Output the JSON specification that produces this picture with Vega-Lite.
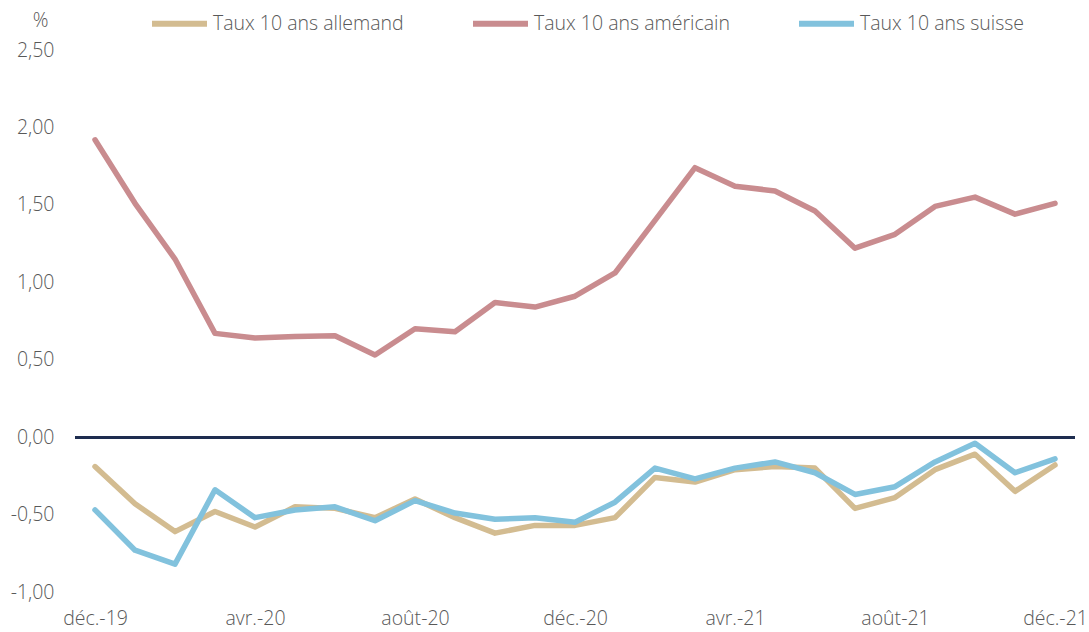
{
  "$schema": "https://vega.github.io/schema/vega-lite/v6.json",
  "width": 1000,
  "height": 542,
  "autosize": {"type": "none"},
  "padding": {"left": 75, "top": 50, "right": 14, "bottom": 40},
  "background": "white",
  "config": {
    "view": {"stroke": null},
    "font": "Open Sans",
    "axis": {"labelFont": "Open Sans", "labelColor": "#595959", "labelFontSize": 19.5, "labelFontWeight": 300, "titleFont": "Open Sans", "titleColor": "#595959", "titleFontSize": 19.5, "titleFontWeight": 300},
    "legend": {"labelFont": "Open Sans", "labelColor": "#595959", "labelFontSize": 19.5, "labelFontWeight": 300, "labelLimit": 400}
  },
  "data": {"values": [
    {"mois": "déc.-19", "serie": "Taux 10 ans allemand", "taux": -0.19},
    {"mois": "janv.-20", "serie": "Taux 10 ans allemand", "taux": -0.43},
    {"mois": "févr.-20", "serie": "Taux 10 ans allemand", "taux": -0.61},
    {"mois": "mars-20", "serie": "Taux 10 ans allemand", "taux": -0.48},
    {"mois": "avr.-20", "serie": "Taux 10 ans allemand", "taux": -0.58},
    {"mois": "mai-20", "serie": "Taux 10 ans allemand", "taux": -0.45},
    {"mois": "juin-20", "serie": "Taux 10 ans allemand", "taux": -0.46},
    {"mois": "juil.-20", "serie": "Taux 10 ans allemand", "taux": -0.52},
    {"mois": "août-20", "serie": "Taux 10 ans allemand", "taux": -0.40},
    {"mois": "sept.-20", "serie": "Taux 10 ans allemand", "taux": -0.52},
    {"mois": "oct.-20", "serie": "Taux 10 ans allemand", "taux": -0.62},
    {"mois": "nov.-20", "serie": "Taux 10 ans allemand", "taux": -0.57},
    {"mois": "déc.-20", "serie": "Taux 10 ans allemand", "taux": -0.57},
    {"mois": "janv.-21", "serie": "Taux 10 ans allemand", "taux": -0.52},
    {"mois": "févr.-21", "serie": "Taux 10 ans allemand", "taux": -0.26},
    {"mois": "mars-21", "serie": "Taux 10 ans allemand", "taux": -0.29},
    {"mois": "avr.-21", "serie": "Taux 10 ans allemand", "taux": -0.21},
    {"mois": "mai-21", "serie": "Taux 10 ans allemand", "taux": -0.19},
    {"mois": "juin-21", "serie": "Taux 10 ans allemand", "taux": -0.20},
    {"mois": "juil.-21", "serie": "Taux 10 ans allemand", "taux": -0.46},
    {"mois": "août-21", "serie": "Taux 10 ans allemand", "taux": -0.39},
    {"mois": "sept.-21", "serie": "Taux 10 ans allemand", "taux": -0.21},
    {"mois": "oct.-21", "serie": "Taux 10 ans allemand", "taux": -0.11},
    {"mois": "nov.-21", "serie": "Taux 10 ans allemand", "taux": -0.35},
    {"mois": "déc.-21", "serie": "Taux 10 ans allemand", "taux": -0.18},
    {"mois": "déc.-19", "serie": "Taux 10 ans américain", "taux": 1.92},
    {"mois": "janv.-20", "serie": "Taux 10 ans américain", "taux": 1.51},
    {"mois": "févr.-20", "serie": "Taux 10 ans américain", "taux": 1.15},
    {"mois": "mars-20", "serie": "Taux 10 ans américain", "taux": 0.67},
    {"mois": "avr.-20", "serie": "Taux 10 ans américain", "taux": 0.64},
    {"mois": "mai-20", "serie": "Taux 10 ans américain", "taux": 0.65},
    {"mois": "juin-20", "serie": "Taux 10 ans américain", "taux": 0.655},
    {"mois": "juil.-20", "serie": "Taux 10 ans américain", "taux": 0.53},
    {"mois": "août-20", "serie": "Taux 10 ans américain", "taux": 0.70},
    {"mois": "sept.-20", "serie": "Taux 10 ans américain", "taux": 0.68},
    {"mois": "oct.-20", "serie": "Taux 10 ans américain", "taux": 0.87},
    {"mois": "nov.-20", "serie": "Taux 10 ans américain", "taux": 0.84},
    {"mois": "déc.-20", "serie": "Taux 10 ans américain", "taux": 0.91},
    {"mois": "janv.-21", "serie": "Taux 10 ans américain", "taux": 1.06},
    {"mois": "févr.-21", "serie": "Taux 10 ans américain", "taux": 1.40},
    {"mois": "mars-21", "serie": "Taux 10 ans américain", "taux": 1.74},
    {"mois": "avr.-21", "serie": "Taux 10 ans américain", "taux": 1.62},
    {"mois": "mai-21", "serie": "Taux 10 ans américain", "taux": 1.59},
    {"mois": "juin-21", "serie": "Taux 10 ans américain", "taux": 1.46},
    {"mois": "juil.-21", "serie": "Taux 10 ans américain", "taux": 1.22},
    {"mois": "août-21", "serie": "Taux 10 ans américain", "taux": 1.31},
    {"mois": "sept.-21", "serie": "Taux 10 ans américain", "taux": 1.49},
    {"mois": "oct.-21", "serie": "Taux 10 ans américain", "taux": 1.55},
    {"mois": "nov.-21", "serie": "Taux 10 ans américain", "taux": 1.44},
    {"mois": "déc.-21", "serie": "Taux 10 ans américain", "taux": 1.51},
    {"mois": "déc.-19", "serie": "Taux 10 ans suisse", "taux": -0.47},
    {"mois": "janv.-20", "serie": "Taux 10 ans suisse", "taux": -0.73},
    {"mois": "févr.-20", "serie": "Taux 10 ans suisse", "taux": -0.82},
    {"mois": "mars-20", "serie": "Taux 10 ans suisse", "taux": -0.34},
    {"mois": "avr.-20", "serie": "Taux 10 ans suisse", "taux": -0.52},
    {"mois": "mai-20", "serie": "Taux 10 ans suisse", "taux": -0.47},
    {"mois": "juin-20", "serie": "Taux 10 ans suisse", "taux": -0.45},
    {"mois": "juil.-20", "serie": "Taux 10 ans suisse", "taux": -0.54},
    {"mois": "août-20", "serie": "Taux 10 ans suisse", "taux": -0.41},
    {"mois": "sept.-20", "serie": "Taux 10 ans suisse", "taux": -0.49},
    {"mois": "oct.-20", "serie": "Taux 10 ans suisse", "taux": -0.53},
    {"mois": "nov.-20", "serie": "Taux 10 ans suisse", "taux": -0.52},
    {"mois": "déc.-20", "serie": "Taux 10 ans suisse", "taux": -0.55},
    {"mois": "janv.-21", "serie": "Taux 10 ans suisse", "taux": -0.42},
    {"mois": "févr.-21", "serie": "Taux 10 ans suisse", "taux": -0.20},
    {"mois": "mars-21", "serie": "Taux 10 ans suisse", "taux": -0.27},
    {"mois": "avr.-21", "serie": "Taux 10 ans suisse", "taux": -0.20},
    {"mois": "mai-21", "serie": "Taux 10 ans suisse", "taux": -0.16},
    {"mois": "juin-21", "serie": "Taux 10 ans suisse", "taux": -0.23},
    {"mois": "juil.-21", "serie": "Taux 10 ans suisse", "taux": -0.37},
    {"mois": "août-21", "serie": "Taux 10 ans suisse", "taux": -0.32},
    {"mois": "sept.-21", "serie": "Taux 10 ans suisse", "taux": -0.16},
    {"mois": "oct.-21", "serie": "Taux 10 ans suisse", "taux": -0.04},
    {"mois": "nov.-21", "serie": "Taux 10 ans suisse", "taux": -0.23},
    {"mois": "déc.-21", "serie": "Taux 10 ans suisse", "taux": -0.14}
  ]},
  "layer": [
    {
      "mark": {"type": "rule", "color": "#1F2D4F", "strokeWidth": 2},
      "encoding": {"y": {"datum": 0}}
    },
    {
      "mark": {"type": "line", "strokeWidth": 5.5, "strokeJoin": "round", "strokeCap": "round"},
      "encoding": {
        "x": {
          "field": "mois", "type": "ordinal", "sort": null,
          "scale": {"type": "point", "padding": 0.5},
          "axis": {
            "title": null, "domain": false, "ticks": false, "grid": false,
            "labelAngle": 0, "labelPadding": 17,
            "values": ["déc.-19", "avr.-20", "août-20", "déc.-20", "avr.-21", "août-21", "déc.-21"]
          }
        },
        "y": {
          "field": "taux", "type": "quantitative",
          "scale": {"domain": [-1, 2.5], "nice": false, "zero": false},
          "axis": {
            "title": "%", "titleAngle": 0, "titleX": -35, "titleY": -30,
            "titleAlign": "center", "titleBaseline": "middle",
            "domain": false, "ticks": false, "grid": false,
            "values": [-1, -0.5, 0, 0.5, 1, 1.5, 2, 2.5],
            "labelPadding": 21,
            "labelExpr": "replace(replace(format(datum.value, '.2f'), '.', ','), '−', '-')"
          }
        },
        "color": {
          "field": "serie", "type": "nominal",
          "scale": {
            "domain": ["Taux 10 ans allemand", "Taux 10 ans américain", "Taux 10 ans suisse"],
            "range": ["#D3BC91", "#C98C8F", "#82C2DD"]
          },
          "legend": {
            "title": null, "orient": "none", "direction": "horizontal",
            "legendX": 74, "legendY": -57,
            "symbolType": "stroke", "symbolSize": 3025, "symbolStrokeWidth": 6,
            "labelOffset": 3, "columnPadding": 57
          }
        }
      }
    }
  ]
}
